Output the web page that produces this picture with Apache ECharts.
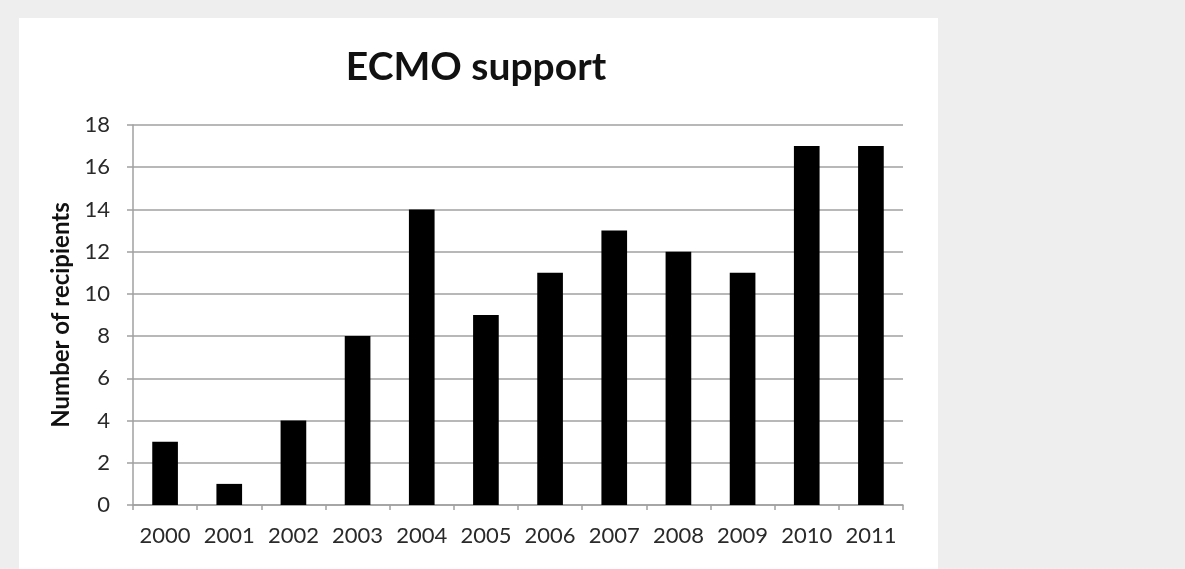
<!DOCTYPE html>
<html>
<head>
<meta charset="utf-8">
<script src="https://cdn.jsdelivr.net/npm/echarts@6/dist/echarts.min.js"></script>
<style>
  html, body { margin: 0; padding: 0; width: 1185px; height: 569px; background: #eeeeee; overflow: hidden; }
  #chart { position: absolute; left: 19px; top: 18px; width: 919px; height: 551px; background: #ffffff; }
</style>
</head>
<body>
<div id="chart"></div>
<script>
// Annual ECMO support recipients
const years = ['2000', '2001', '2002', '2003', '2004', '2005', '2006', '2007', '2008', '2009', '2010', '2011'];
const recipients = [3, 1, 4, 8, 14, 9, 11, 13, 12, 11, 17, 17];
const yTicks = { min: 0, max: 18, interval: 2 };

const chart = echarts.init(document.getElementById('chart'), null, { renderer: 'canvas' });
const font = 'Lato, "Open Sans", sans-serif';
chart.setOption({
  animation: false,
  backgroundColor: '#ffffff',
  title: {
    text: 'ECMO support',
    left: 452,
    top: 25,
    textAlign: 'center',
    textStyle: { fontFamily: font, fontSize: 39, fontWeight: 'bold', color: '#111111' }
  },
  grid: { left: 114, top: 107, width: 770, height: 380, containLabel: false },
  xAxis: {
    type: 'category',
    data: years,
    axisLine: { lineStyle: { color: '#a0a0a0', width: 1.5 } },
    axisTick: { show: true, interval: 0, length: 5, alignWithLabel: false, lineStyle: { color: '#a0a0a0', width: 1.5 } },
    axisLabel: { interval: 0, hideOverlap: false, fontFamily: font, fontSize: 22, color: '#2a2a2a', margin: 20 }
  },
  yAxis: {
    type: 'value',
    min: yTicks.min,
    max: yTicks.max,
    interval: yTicks.interval,
    name: 'Number of recipients',
    nameLocation: 'middle',
    nameGap: 58,
    nameRotate: 90,
    nameTextStyle: { fontFamily: font, fontSize: 24, fontWeight: 'bold', color: '#111111' },
    axisLine: { show: true, lineStyle: { color: '#a0a0a0', width: 1.5 } },
    axisTick: { show: true, length: 6, lineStyle: { color: '#a0a0a0', width: 1.5 } },
    axisLabel: { fontFamily: font, fontSize: 22, color: '#2a2a2a', margin: 23 },
    splitLine: { show: true, lineStyle: { color: '#a0a0a0', width: 1.5 } }
  },
  series: [{
    type: 'bar',
    data: recipients,
    barWidth: '40%',
    itemStyle: { color: '#000000' }
  }]
});
</script>
</body>
</html>
